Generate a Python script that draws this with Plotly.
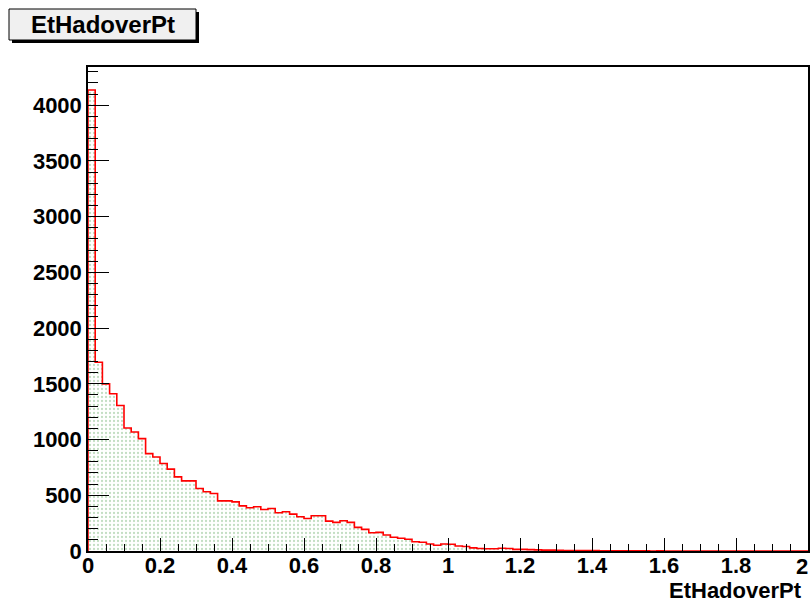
"""ROOT-style histogram of EtHadoverPt rebuilt with Plotly."""

import numpy as np
import plotly.graph_objects as go

# -- histogram data: 100 bins of width 0.02 over [0, 2] --
bin_low = 0.0
bin_width = 0.02
counts = [
    4136, 1694, 1500, 1411, 1306, 1103, 1068, 1008, 874, 844,
    785, 735, 665, 629, 629, 561, 531, 516, 450, 450,
    441, 405, 388, 397, 373, 382, 343, 352, 331, 307,
    292, 316, 316, 268, 257, 271, 257, 212, 194, 164,
    167, 143, 123, 114, 105, 83, 78, 63, 51, 63,
    60, 45, 40, 28, 22, 20, 20, 25, 22, 15,
    15, 12, 10, 8, 8, 6, 5, 5, 4, 3,
    3, 2, 2, 2, 1, 1, 1, 1, 0, 1,
    0, 0, 0, 0, 0, 0, 0, 0, 0, 0,
    0, 0, 0, 0, 0, 0, 0, 0, 0, 0,
]
x_tick_vals = [0, 0.2, 0.4, 0.6, 0.8, 1.0, 1.2, 1.4, 1.6, 1.8]
x_tick_text = ["0", "0.2", "0.4", "0.6", "0.8", "1", "1.2", "1.4", "1.6", "1.8"]
x_end_label = "2"   # last label, pulled inside the window like ROOT does
hist_title = "EtHadoverPt"
x_title = "EtHadoverPt"

edges = bin_low + bin_width * np.arange(len(counts) + 1)
step_x = np.concatenate([[edges[0]], edges])
step_y = np.concatenate([[0], counts, [counts[-1]]])

y_max = max(counts) * 1.05

FONT = "Liberation Sans, Arial, Helvetica, sans-serif"

FIG_W, FIG_H = 811, 604
# plot frame in window pixels
L, R, T, B = 88, 808, 67, 551
W, H = R - L, B - T


def px(xp):
    return (xp - L) / W


def py(yp):
    return (B - yp) / H


fig = go.Figure()
fig.add_trace(
    go.Scatter(
        x=step_x,
        y=step_y,
        mode="lines",
        line=dict(shape="hv", color="#ff0000", width=1.6),
        fill="tozeroy",
        fillcolor="rgba(0,0,0,0)",
        fillpattern=dict(shape=".", fgcolor="#86bc86", bgcolor="white",
                         size=4, solidity=0.25),
        showlegend=False,
        hoverinfo="skip",
    )
)

fig.update_layout(
    width=FIG_W,
    height=FIG_H,
    margin=dict(l=L, r=FIG_W - R, t=T, b=FIG_H - B, autoexpand=False),
    paper_bgcolor="white",
    plot_bgcolor="white",
    font=dict(family=FONT, color="black"),
    showlegend=False,
)

fig.update_xaxes(
    range=[0, 2],
    showgrid=False,
    zeroline=False,
    showline=True,
    mirror=True,
    linecolor="black",
    linewidth=1.5,
    ticks="inside",
    ticklen=13,
    tickwidth=1.3,
    tickcolor="black",
    tickvals=x_tick_vals + [2.0],
    ticktext=x_tick_text + [""],
    tickfont=dict(family=FONT, size=22, weight="bold"),
    ticklabelstandoff=-6,
    minor=dict(ticks="inside", ticklen=7, tickwidth=1.3, tickcolor="black",
               dtick=0.05, tick0=0, showgrid=False),
)
fig.update_yaxes(
    range=[0, y_max],
    showgrid=False,
    zeroline=False,
    showline=True,
    mirror=True,
    linecolor="black",
    linewidth=1.5,
    ticks="inside",
    ticklen=21,
    tickwidth=1.3,
    tickcolor="black",
    dtick=500,
    tick0=0,
    tickfont=dict(family=FONT, size=22, weight="bold"),
    ticklabelstandoff=0,
    minor=dict(ticks="inside", ticklen=10, tickwidth=1.3, tickcolor="black",
               dtick=100, tick0=0, showgrid=False),
)

# last x label, kept inside the window
fig.add_annotation(
    text=x_end_label, xref="paper", yref="paper",
    x=px(810), y=py(566), xanchor="right", yanchor="middle",
    showarrow=False, font=dict(family=FONT, size=22, weight="bold"),
)

# -- title box with drop shadow (ROOT TPaveText look) --
fig.add_shape(type="rect", xref="paper", yref="paper",
              x0=px(12), x1=px(199), y0=py(43), y1=py(12),
              fillcolor="black", line=dict(width=0))
fig.add_shape(type="rect", xref="paper", yref="paper",
              x0=px(9), x1=px(196), y0=py(40), y1=py(9),
              fillcolor="#f0f0f0", line=dict(color="black", width=1))
fig.add_annotation(
    text=hist_title, xref="paper", yref="paper",
    x=px(102.5), y=py(25), xanchor="center", yanchor="middle",
    showarrow=False, font=dict(family=FONT, size=24, weight="bold"),
)

# -- x axis title, right aligned under the axis --
fig.add_annotation(
    text=x_title, xref="paper", yref="paper",
    x=px(804), y=py(590), xanchor="right", yanchor="middle",
    showarrow=False, font=dict(family=FONT, size=22, weight="bold"),
)

# drop the default 8px body margin so the figure fills the window exactly
fig.write_html(
    "out.html",
    config={"displayModeBar": False},
    post_script="document.body.style.margin='0';document.body.style.overflow='hidden';",
)
